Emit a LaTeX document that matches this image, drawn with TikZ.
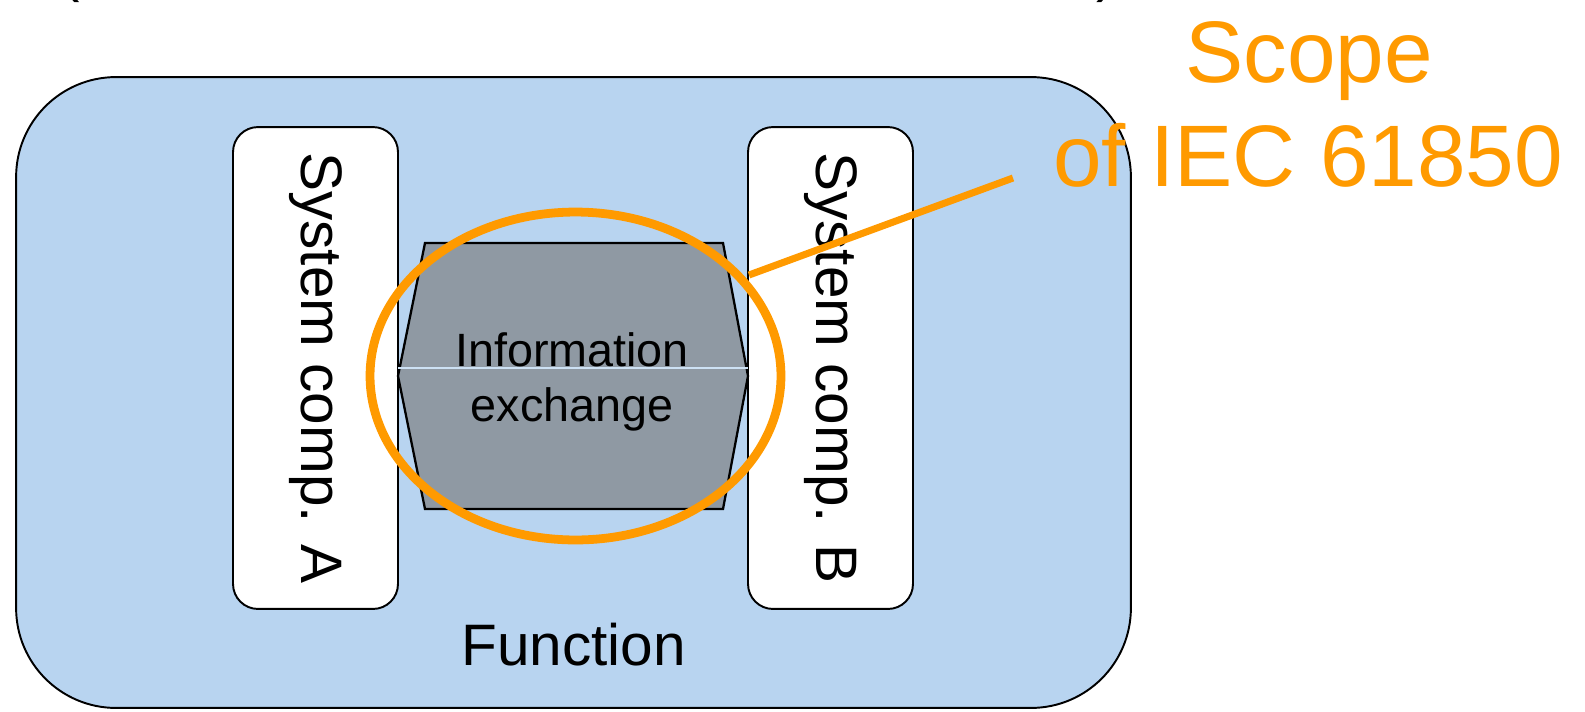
\documentclass[tikz,border=0pt]{standalone}
\usepackage{fontspec}
\setmainfont{Liberation Sans}
\usetikzlibrary{shapes.geometric}

\definecolor{funcblue}{HTML}{B8D4F0}
\definecolor{xchggray}{HTML}{8F99A3}
\definecolor{scopeorange}{HTML}{FF9A00}

\tikzset{
  funcbox/.style={draw=black, line width=1.1pt, fill=funcblue, rectangle,
    rounded corners=2cm, minimum width=22.3cm, minimum height=12.62cm, inner sep=0pt},
  compbox/.style={draw=black, line width=1.1pt, fill=white, rectangle,
    rounded corners=0.5cm, rotate=-90, minimum width=9.64cm, minimum height=3.3cm,
    inner sep=0pt, font=\fontsize{33.3}{40}\selectfont},
  xchgshape/.style={draw=black, line width=1.3pt, fill=xchggray, line join=miter},
  divider/.style={draw=funcblue!70!white, line width=0.6pt},
  xchgtext/.style={anchor=base, inner sep=0pt, font=\fontsize{26.6}{31}\selectfont},
  bigtext/.style={anchor=base, inner sep=0pt, font=\fontsize{33.3}{40}\selectfont},
  scopetext/.style={anchor=base, inner sep=0pt, text=scopeorange,
    font=\fontsize{49.7}{60}\selectfont},
  scopering/.style={draw=scopeorange, line width=5pt, ellipse, inner sep=0pt,
    minimum width=8.22cm, minimum height=6.56cm},
  scopelead/.style={draw=scopeorange, line width=4pt},
}

\begin{document}
\begin{tikzpicture}[x=0.02cm, y=-0.02cm]
  \useasboundingbox (0,0) rectangle (1585,711);

  % line of text running above the page edge
  \node[bigtext] (cutl) at (70,-10) {(};
  \node[bigtext] (cutc) at (624,-9) {,};
  \node[bigtext] (cutr) at (1106,-10) {)};

  % the function as a whole
  \node[funcbox] (func) at (573.5,392.5) {};
  \node[bigtext] (functext) at (573.5,665) {Function};

  % the two system components
  \node[compbox] (compA) at (315.5,368) {System comp. A};
  \node[compbox] (compB) at (830.5,368) {System comp. B};

  % information exchange between them
  \coordinate (xl) at (398,376);
  \coordinate (xr) at (748,376);
  \draw[xchgshape] (425,243) -- (723,243) -- (xr) -- (723,509) -- (425,509) -- (xl) -- cycle;
  \draw[divider] (398,368) -- (748,368);
  \node[xchgtext] (info1) at (572,366) {Information};
  \node[xchgtext] (info2) at (572,421) {exchange};

  % scope of the standard
  \node[scopering] (ring) at (575.5,376) {};
  \coordinate (leadstart) at (749,275);
  \coordinate (leadend) at (1013,178);
  \draw[scopelead] (leadstart) -- (leadend);
  \node[scopetext] (scope1) at (1309,82) {Scope};
  \node[scopetext] (scope2) at (1308,186) {of IEC 61850};
\end{tikzpicture}
\end{document}
